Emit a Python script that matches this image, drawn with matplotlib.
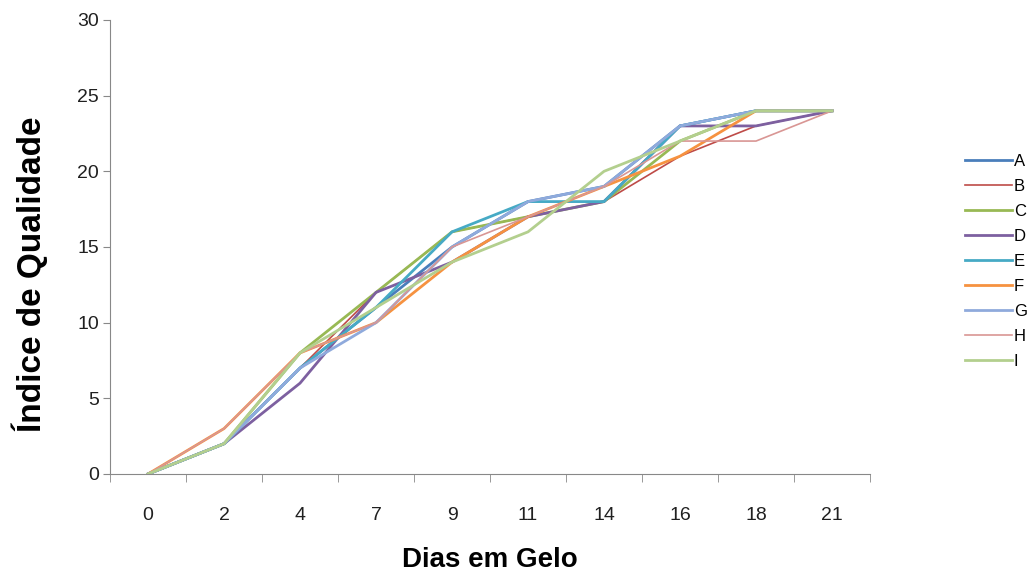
import matplotlib
matplotlib.use("Agg")
import matplotlib.pyplot as plt

plt.rcParams['font.family'] = ['Liberation Sans', 'DejaVu Sans']

dias = ['0', '2', '4', '7', '9', '11', '14', '16', '18', '21']

A = [0, 2, 7, 11, 15, 18, 19, 23, 24, 24]
B = [0, 2, 7, 12, 16, 17, 18, 21, 23, 24]
C = [0, 2, 8, 12, 16, 17, 18, 22, 24, 24]
D = [0, 2, 6, 12, 14, 17, 18, 23, 23, 24]
E = [0, 2, 7, 11, 16, 18, 18, 23, 24, 24]
F = [0, 3, 8, 10, 14, 17, 19, 21, 24, 24]
G = [0, 2, 7, 10, 15, 18, 19, 23, 24, 24]
H = [0, 3, 8, 10, 15, 17, 19, 22, 22, 24]
I = [0, 2, 8, 11, 14, 16, 20, 22, 24, 24]

series = [('A', A), ('B', B), ('C', C), ('D', D), ('E', E),
          ('F', F), ('G', G), ('H', H), ('I', I)]
colors = ['#4A7EBB', '#BE4B48', '#98B954', '#7D60A0', '#46AAC5',
          '#F69240', '#8FAADC', '#D99694', '#B3CF8E']
widths = [2, 1.2, 2, 2, 2, 2, 2, 1.2, 2]

fig = plt.figure(figsize=(10.33, 5.73), dpi=100)
ax = fig.add_axes([0.1065, 0.1728, 0.7357, 0.7923])

x = list(range(len(dias)))
for (name, vals), c, w in zip(series, colors, widths):
    ax.plot(x, vals, color=c, lw=w, label=name)

ax.set_xlim(-0.5, len(dias) - 0.5)
ax.set_ylim(0, 30)
ax.set_yticks(range(0, 31, 5))
ax.set_xticks(x)
ax.set_xticklabels(dias)
ax.set_xticks([i - 0.5 for i in range(len(dias) + 1)], minor=True)
ax.tick_params(axis='x', which='major', length=0, pad=24, labelsize=14, colors='#202020')
ax.tick_params(axis='x', which='minor', length=6, color='#888888')
ax.tick_params(axis='y', length=5, color='#888888', labelsize=14, labelcolor='#202020', pad=3)

for s in ['top', 'right']:
    ax.spines[s].set_visible(False)
for s in ['left', 'bottom']:
    ax.spines[s].set_color('#888888')

ax.set_xlabel('Dias em Gelo', fontsize=20, fontweight='bold', labelpad=16)
ax.set_ylabel('Índice de Qualidade', fontsize=24, fontweight='bold')
ax.yaxis.set_label_coords(-0.082, 0.44)

fig.legend(loc='upper left', bbox_to_anchor=(0.920, 0.757), frameon=False,
           fontsize=12, handlelength=2.8, handletextpad=0.1, labelspacing=0.6)

fig.savefig('out.png', dpi=100)
